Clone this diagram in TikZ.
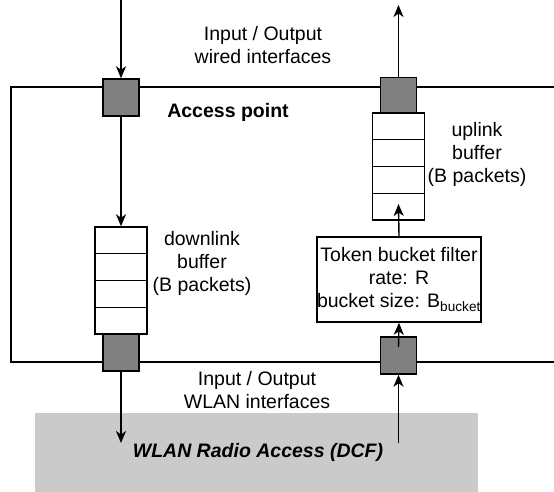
\documentclass[tikz,border=0pt]{standalone}
\usepackage{fontspec}
\setmainfont{Liberation Sans}
\usetikzlibrary{arrows.meta,calc}
\definecolor{portgray}{RGB}{128,128,128}
\definecolor{radiogray}{RGB}{202,202,202}
\begin{document}
\begin{tikzpicture}[x=1pt,y=-1pt,
  font=\fontsize{19.5}{23}\selectfont,
  ln/.style={line width=1.5pt},
  arr/.style={line width=1.4pt,-{Stealth[length=12pt,width=10pt,inset=3.5pt]}},
  port/.style={draw,line width=1.5pt,fill=portgray,minimum width=36pt,minimum height=37pt,inner sep=0pt},
  buf/.style={draw,line width=1.5pt,fill=white,minimum width=52pt,minimum height=107pt,inner sep=0pt},
  lbl/.style={align=center,inner sep=0pt}]
\useasboundingbox (0,0) rectangle (554,492);
% radio access region
\fill[radiogray] (35,413) rectangle (478,495);
\node[lbl,font=\fontsize{19.5}{23}\selectfont\bfseries\itshape] (radio) at (258,452) {WLAN Radio Access (DCF)};
% access point frame
\draw[ln] (556,87) -- (11,87) -- (11,362) -- (556,362);
\node[lbl,font=\fontsize{19.5}{23}\selectfont\bfseries] (ap) at (228,112) {Access point};
% ports
\node[port] (pTL) at (121,97.5) {};
\node[port] (pTR) at (398.5,96) {};
\node[port] (pBL) at (121,352.5) {};
\node[port] (pBR) at (398.5,355.5) {};
% buffers
\node[buf] (dbuf) at (121,280.5) {};
\foreach \k in {1,2,3}
  \draw[ln] ($(dbuf.north west)!\k/4!(dbuf.south west)$) -- ($(dbuf.north east)!\k/4!(dbuf.south east)$);
\node[buf] (ubuf) at (398.5,166.5) {};
\foreach \k in {1,2,3}
  \draw[ln] ($(ubuf.north west)!\k/4!(ubuf.south west)$) -- ($(ubuf.north east)!\k/4!(ubuf.south east)$);
% token bucket
\node[draw,line width=1.5pt,fill=white,minimum width=164pt,minimum height=85pt,inner sep=0pt,align=center] (tok) at (399,279.5)
  {Token bucket filter\\rate: R\\bucket size: B\textsubscript{bucket}};
% labels
\node[lbl] (wired) at (263,45) {Input / Output\\wired interfaces};
\node[lbl] (wlan) at (257,390) {Input / Output\\WLAN interfaces};
\node[lbl] (dl) at (202,263) {downlink\\buffer\\(B packets)};
\node[lbl] (ul) at (477,154.5) {uplink\\buffer\\(B packets)};
% coordinates
\coordinate (inTop) at (121,0);
\coordinate (outTop) at (398.5,5);
\coordinate (outBot) at (121,443);
\coordinate (inBot) at (398.5,443);
\coordinate (pBRin) at (398.5,347);
\coordinate (ubufin) at (398.5,204);
% arrows
\draw[arr] (inTop) -- (pTL.north);
\draw[arr] (pTL.south) -- (dbuf.north);
\draw[arr] (pBL.south) -- (outBot);
\draw[arr] (inBot) -- (pBR.south);
\draw[arr] (pBRin) -- (tok.south);
\draw[arr] (tok.north) -- (ubufin);
\draw[arr] (pTR.north) -- (outTop);
\end{tikzpicture}
\end{document}
